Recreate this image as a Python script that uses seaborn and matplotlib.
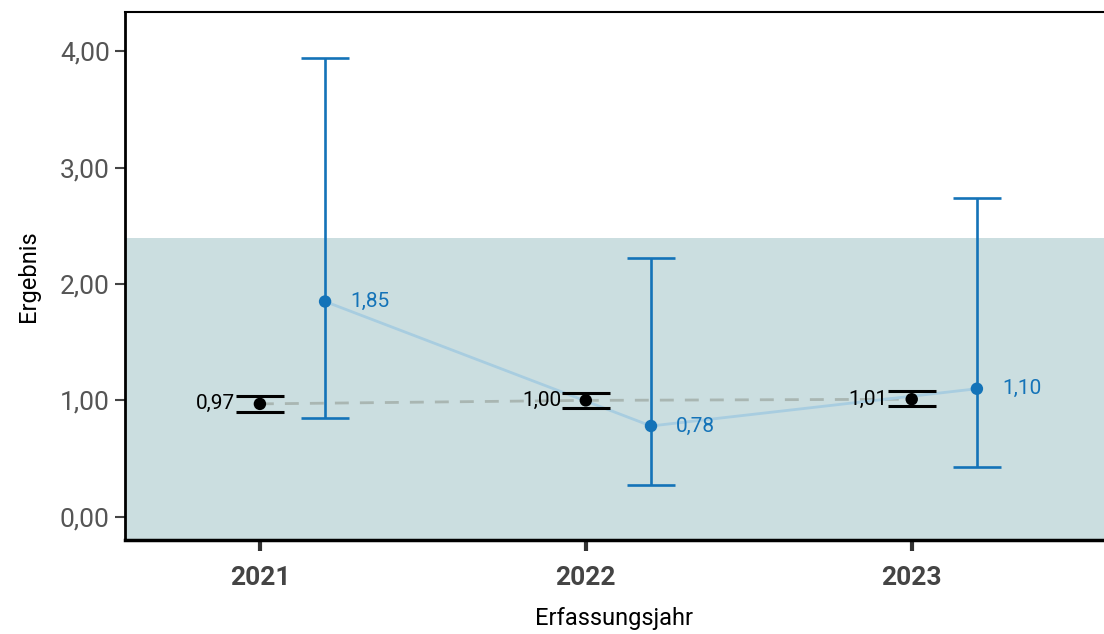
import matplotlib
matplotlib.use("Agg")
import matplotlib.pyplot as plt
import seaborn as sns
import pandas as pd
import numpy as np

years = ["2021", "2022", "2023"]
ref_values = [0.97, 1.00, 1.01]
ref_lower = [0.90, 0.935, 0.95]
ref_upper = [1.04, 1.06, 1.08]
values = [1.85, 0.78, 1.10]
lower = [0.85, 0.27, 0.43]
upper = [3.94, 2.22, 2.74]
ref_labels = ["0,97", "1,00", "1,01"]
labels = ["1,85", "0,78", "1,10"]
yticks = [0, 1, 2, 3, 4]
ytick_labels = ["0,00", "1,00", "2,00", "3,00", "4,00"]
band_upper = 2.40

sns.set_theme(style="white")
plt.rcParams['font.family'] = ['Roboto', 'DejaVu Sans']

fig = plt.figure(figsize=(11.04, 6.34), dpi=100)
ax = fig.add_axes([0.1132, 0.1483, 0.8868, 0.833])

x = np.arange(len(years))
off = 0.2
ref_df = pd.DataFrame({"x": x, "y": ref_values})
df = pd.DataFrame({"x": x + off, "y": values})

ymin, ymax = -0.2, 4.34
ax.axhspan(ymin, band_upper, color="#cbdee0", zorder=0, lw=0)

sns.lineplot(data=ref_df, x="x", y="y", ax=ax, color="#a9b6b2", lw=2,
             linestyle=(0, (5, 4)), zorder=2)
sns.lineplot(data=df, x="x", y="y", ax=ax, color="#a8cde0", lw=2, zorder=2)

ax.errorbar(x, ref_values,
            yerr=[np.array(ref_values) - np.array(ref_lower), np.array(ref_upper) - np.array(ref_values)],
            fmt="none", ecolor="black", elinewidth=0, capsize=17.5, capthick=2.2, zorder=3)
ax.errorbar(x + off, values,
            yerr=[np.array(values) - np.array(lower), np.array(upper) - np.array(values)],
            fmt="none", ecolor="#1473b8", elinewidth=1.9, capsize=17, capthick=1.9, zorder=3)

sns.scatterplot(data=ref_df, x="x", y="y", ax=ax, color="black", s=80, zorder=4, edgecolor="none")
sns.scatterplot(data=df, x="x", y="y", ax=ax, color="#1473b8", s=80, zorder=4, edgecolor="none")

for i in range(len(years)):
    ax.text(x[i] - 0.075, ref_values[i], ref_labels[i], ha="right", va="center",
            fontsize=15, color="black", zorder=5)
    ax.text(x[i] + off + 0.077, values[i], labels[i], ha="left", va="center",
            fontsize=15, color="#1473b8", zorder=5)

ax.set_xlim(-0.414, 2.59)
ax.set_ylim(ymin, ymax)
ax.set_xticks(x)
ax.set_xticklabels(years, fontsize=19, fontweight="bold", color="#444444")
ax.set_yticks(yticks)
ax.set_yticklabels(ytick_labels, fontsize=19, color="#555555")
ax.tick_params(axis="y", length=7, width=1.5, color="#444444", left=True, pad=4)
ax.tick_params(axis="x", length=8, width=3, color="#333333", bottom=True, pad=11)
ax.set_xlabel("Erfassungsjahr", fontsize=17, color="black", labelpad=12)
ax.set_ylabel("Ergebnis", fontsize=17, color="black", labelpad=14)

for s in ["left", "bottom", "top"]:
    ax.spines[s].set_visible(True)
    ax.spines[s].set_color("black")
ax.spines["left"].set_linewidth(2)
ax.spines["bottom"].set_linewidth(2.5)
ax.spines["top"].set_linewidth(1.5)
ax.spines["right"].set_visible(False)

fig.savefig("out.png", dpi=100)
